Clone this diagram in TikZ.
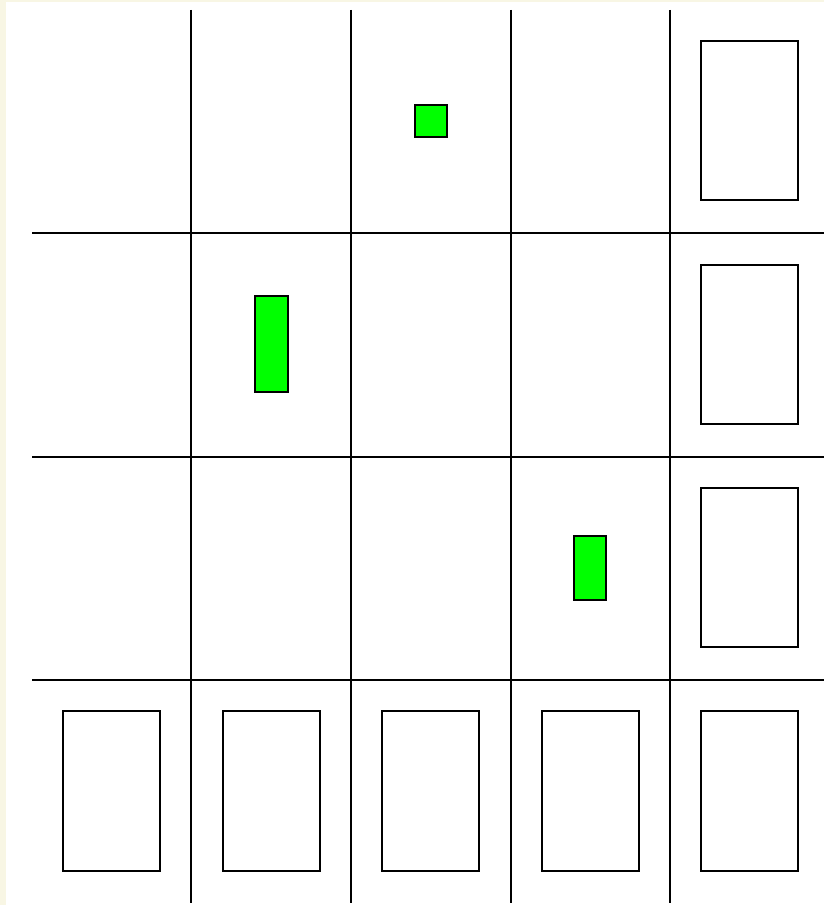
\documentclass[tikz,border=0pt]{standalone}
\usepackage{xcolor}
\usepackage{tikz}
\definecolor{cream}{HTML}{F8F6E4}
\definecolor{tilegreen}{HTML}{00FF00}

\begin{document}
\begin{tikzpicture}[
  x=0.75pt, y=-0.75pt,
  gridline/.style={line width=2.1pt},
  slot/.style={draw, line width=2.1pt, fill=white},
  piece/.style={draw, line width=1.8pt, fill=tilegreen}
]
  \useasboundingbox (0,0) rectangle (824,905);
  \fill[cream] (0,0) rectangle (824,905);
  \fill[white] (6,2) rectangle (824,905);
  % grid
  \foreach \x in {191,351,511,670} \draw[gridline] (\x,10) -- (\x,903);
  \foreach \y in {233,457,680} \draw[gridline] (32,\y) -- (824,\y);
  % empty slots
  \foreach \y in {41,265,488} \draw[slot] (701,\y) rectangle ++(97,159);
  \foreach \x in {63,223,382,542,701} \draw[slot] (\x,711) rectangle ++(97,160);
  % green pieces
  \draw[piece] (415,105) rectangle (447,137);
  \draw[piece] (255,296) rectangle (288,392);
  \draw[piece] (574,536) rectangle (606,600);
\end{tikzpicture}
\end{document}
